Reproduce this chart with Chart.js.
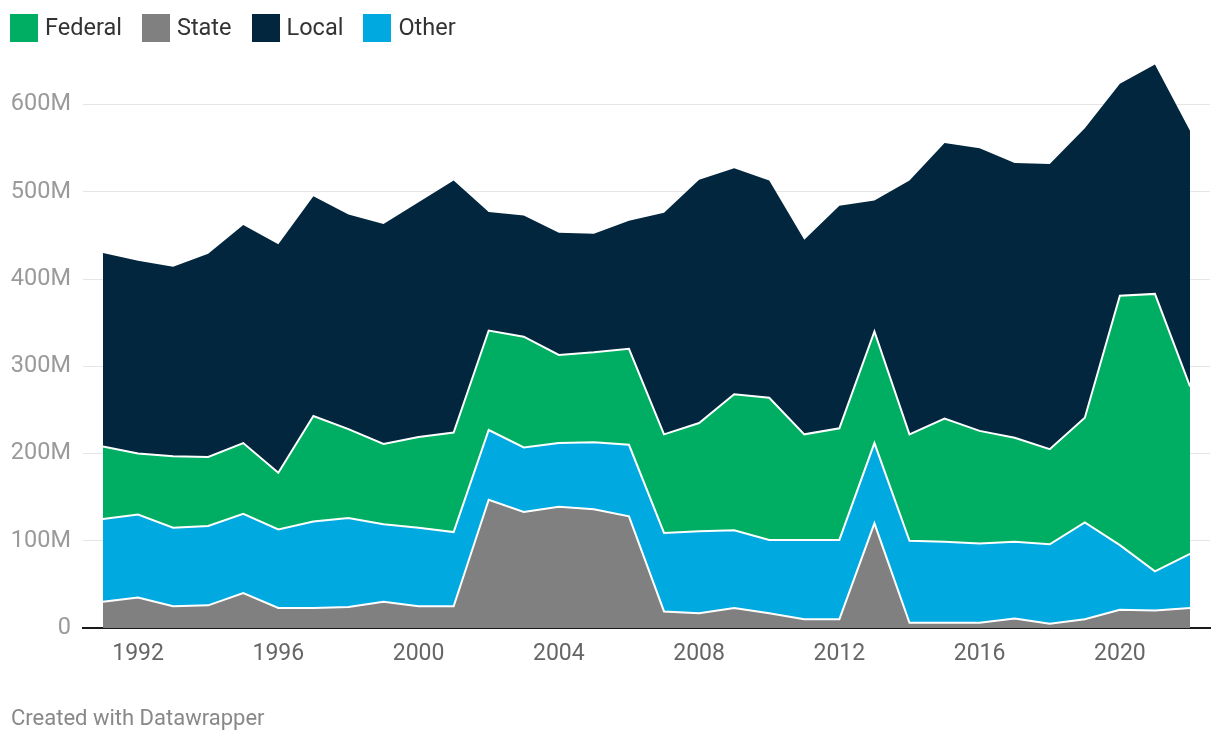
<!DOCTYPE html>
<html>
<head>
<meta charset="utf-8">
<script src="https://cdn.jsdelivr.net/npm/chart.js@4/dist/chart.umd.min.js"></script>
<style>
html,body{margin:0;padding:0;background:#fff;width:1220px;height:744px;overflow:hidden;font-family:Roboto,sans-serif;}
#wrap{position:absolute;left:0;top:0;width:1220px;height:744px;}
#chart{position:absolute;left:0;top:0;}
#legend{position:absolute;left:10px;top:14px;height:28px;display:flex;align-items:center;font-size:23.5px;color:#333;}
.item{display:flex;align-items:center;margin-right:20px;}
.item span{position:relative;top:-1px;}
.sw{width:28px;height:28px;margin-right:7px;}
#footer{position:absolute;left:11px;top:705px;font-size:22px;color:#888;}
</style>
</head>
<body>
<div id="wrap">
  <canvas id="chart" width="1220" height="744"></canvas>
  <div id="legend"></div>
  <div id="footer">Created with Datawrapper</div>
</div>
<script>
// Data (values in millions)
const years = [1991,1992,1993,1994,1995,1996,1997,1998,1999,2000,2001,2002,2003,2004,2005,2006,2007,2008,2009,2010,2011,2012,2013,2014,2015,2016,2017,2018,2019,2020,2021,2022];
const stateVals   = [30,35,25,26,40,23,23,24,30,25,25,147,133,139,136,128,19,17,23,17,10,10,120,6,6,6,11,5,10,21,20,23];
const otherVals   = [95,95,90,91,91,90,99,102,89,90,85,80,74,73,77,82,90,94,89,84,91,91,92,94,93,91,88,91,111,74,45,62];
const federalVals = [83,70,82,79,81,65,121,102,92,104,114,114,127,101,103,110,113,124,156,163,121,128,128,122,141,129,119,109,120,286,318,192];
const localVals   = [222,221,217,233,250,262,252,246,252,269,289,136,139,140,136,147,254,279,259,249,223,255,150,291,316,324,315,327,332,243,263,293];
const xTicks = [1992,1996,2000,2004,2008,2012,2016,2020];
const yTicks = [0,100,200,300,400,500,600];
const yTickLabels = ['0','100M','200M','300M','400M','500M','600M'];

// Series (stack order bottom→top) and legend order
const seriesNames = ['State','Other','Federal','Local'];
const seriesData = [stateVals, otherVals, federalVals, localVals];
const seriesColors = {State:'#808080', Other:'#00a9e0', Federal:'#00ae63', Local:'#01263d'};
const legendOrder = ['Federal','State','Local','Other'];

// HTML legend
const lg = document.getElementById('legend');
legendOrder.forEach(n => {
  const it = document.createElement('div'); it.className = 'item';
  const sw = document.createElement('div'); sw.className = 'sw'; sw.style.background = seriesColors[n];
  const tx = document.createElement('span'); tx.textContent = n;
  it.appendChild(sw); it.appendChild(tx); lg.appendChild(it);
});

Chart.defaults.font.family = 'Roboto, sans-serif';

const datasets = seriesNames.map((n, i) => ({
  label: n,
  data: seriesData[i].map((v, k) => ({x: years[k], y: v})),
  backgroundColor: seriesColors[n],
  borderColor: '#ffffff',
  borderWidth: n === 'Local' ? 0 : 2,
  pointRadius: 0,
  pointHoverRadius: 0,
  tension: 0,
  fill: i === 0 ? 'origin' : '-1'
}));

new Chart(document.getElementById('chart'), {
  type: 'line',
  data: { datasets },
  options: {
    responsive: false,
    animation: false,
    events: [],
    layout: { padding: { top: 61, right: 10, left: 0, bottom: 0 } },
    plugins: { legend: { display: false }, tooltip: { enabled: false } },
    scales: {
      x: {
        type: 'linear',
        min: years[0] - 0.57,
        max: years[years.length - 1] + 0.57,
        afterBuildTicks: s => { s.ticks = xTicks.map(v => ({value: v})); },
        afterFit: s => { s.height = 116; },
        grid: { display: false, drawTicks: false },
        border: { display: true, color: '#1a1a1a', width: 2 },
        ticks: {
          autoSkip: false, maxRotation: 0,
          padding: 12,
          color: '#666',
          font: { size: 23 },
          callback: v => String(v)
        }
      },
      y: {
        stacked: true,
        min: 0,
        max: 650,
        afterBuildTicks: s => { s.ticks = yTicks.map(v => ({value: v})); },
        afterFit: s => { s.width = 83; },
        grid: { color: '#e5e5e5', lineWidth: 1, drawTicks: false },
        border: { display: false },
        ticks: {
          padding: 12,
          color: '#9a9a9a',
          font: { size: 23.5 },
          callback: (v) => yTickLabels[yTicks.indexOf(v)]
        }
      }
    }
  }
});
</script>
</body>
</html>
